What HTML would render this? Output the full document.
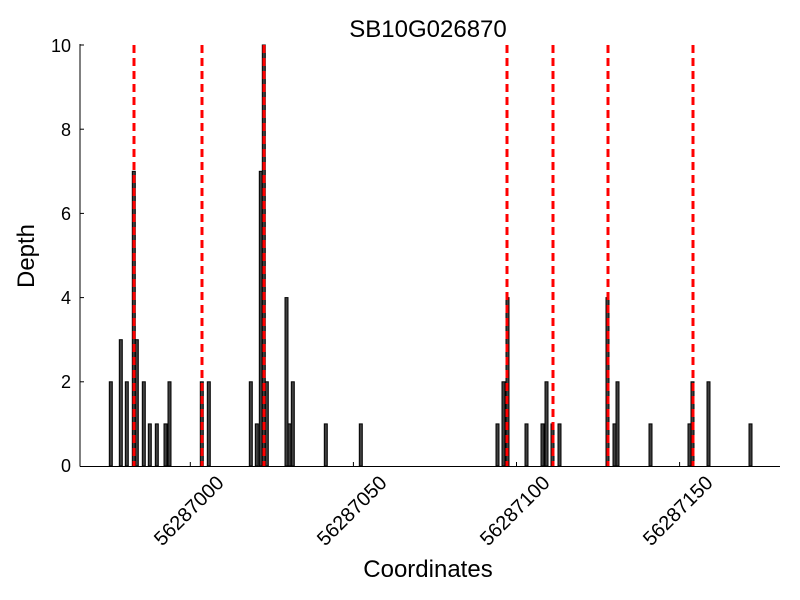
<!DOCTYPE html>
<html><head><meta charset="utf-8"><style>body{margin:0;background:#fff}svg{display:block}text{font-family:"Liberation Sans",sans-serif;fill:#000}</style></head><body>
<svg width="800" height="600" xmlns="http://www.w3.org/2000/svg">
<text x="428" y="37" font-size="24" text-anchor="middle">SB10G026870</text>
<g fill="#404040" stroke="#000" stroke-width="1">
<rect x="109.3" y="381.8" width="3" height="84.2"/>
<rect x="119.3" y="339.7" width="3" height="126.3"/>
<rect x="125.3" y="381.8" width="3" height="84.2"/>
<rect x="132.3" y="171.3" width="3" height="294.7"/>
<rect x="135.3" y="339.7" width="3" height="126.3"/>
<rect x="142.3" y="381.8" width="3" height="84.2"/>
<rect x="148.3" y="423.9" width="3" height="42.1"/>
<rect x="155.3" y="423.9" width="3" height="42.1"/>
<rect x="164" y="423.9" width="3" height="42.1"/>
<rect x="168" y="381.8" width="3" height="84.2"/>
<rect x="200.3" y="381.8" width="3" height="84.2"/>
<rect x="207.3" y="381.8" width="3" height="84.2"/>
<rect x="249.3" y="381.8" width="3" height="84.2"/>
<rect x="255.3" y="423.9" width="3" height="42.1"/>
<rect x="259.3" y="171.3" width="3" height="294.7"/>
<rect x="262.3" y="45" width="3" height="421"/>
<rect x="265.3" y="381.8" width="3" height="84.2"/>
<rect x="285" y="297.6" width="3" height="168.4"/>
<rect x="288" y="423.9" width="3" height="42.1"/>
<rect x="291.3" y="381.8" width="3" height="84.2"/>
<rect x="324.3" y="423.9" width="3" height="42.1"/>
<rect x="359.3" y="423.9" width="3" height="42.1"/>
<rect x="496" y="423.9" width="3" height="42.1"/>
<rect x="502" y="381.8" width="3" height="84.2"/>
<rect x="506" y="297.6" width="3" height="168.4"/>
<rect x="525" y="423.9" width="3" height="42.1"/>
<rect x="541" y="423.9" width="3" height="42.1"/>
<rect x="545" y="381.8" width="3" height="84.2"/>
<rect x="551" y="423.9" width="3" height="42.1"/>
<rect x="558" y="423.9" width="3" height="42.1"/>
<rect x="606" y="297.6" width="3" height="168.4"/>
<rect x="613" y="423.9" width="3" height="42.1"/>
<rect x="616" y="381.8" width="3" height="84.2"/>
<rect x="649" y="423.9" width="3" height="42.1"/>
<rect x="688" y="423.9" width="3" height="42.1"/>
<rect x="691" y="381.8" width="3" height="84.2"/>
<rect x="707" y="381.8" width="3" height="84.2"/>
<rect x="749" y="423.9" width="3" height="42.1"/>
</g>
<g stroke="#f00" stroke-width="3" stroke-dasharray="8,5">
<line x1="134" y1="45" x2="134" y2="466"/>
<line x1="202" y1="45" x2="202" y2="466"/>
<line x1="264" y1="45" x2="264" y2="466"/>
<line x1="507" y1="45" x2="507" y2="466"/>
<line x1="553" y1="45" x2="553" y2="466"/>
<line x1="608" y1="45" x2="608" y2="466"/>
<line x1="693" y1="45" x2="693" y2="466"/>
</g>
<g stroke="#000" stroke-width="1">
<line x1="80" y1="44" x2="80" y2="466.5"/>
<line x1="80" y1="466.5" x2="780" y2="466.5"/>
<line x1="80" y1="45" x2="84" y2="45"/>
<line x1="80" y1="129.2" x2="84" y2="129.2"/>
<line x1="80" y1="213.4" x2="84" y2="213.4"/>
<line x1="80" y1="297.6" x2="84" y2="297.6"/>
<line x1="80" y1="381.8" x2="84" y2="381.8"/>
<line x1="190.3" y1="466" x2="190.3" y2="462"/>
<line x1="353.4" y1="466" x2="353.4" y2="462"/>
<line x1="516.5" y1="466" x2="516.5" y2="462"/>
<line x1="679.6" y1="466" x2="679.6" y2="462"/>
</g>
<g font-size="18" text-anchor="end">
<text x="71" y="52">10</text>
<text x="71" y="136">8</text>
<text x="71" y="220">6</text>
<text x="71" y="304">4</text>
<text x="71" y="388">2</text>
<text x="71" y="472">0</text>
</g>
<g font-size="20" text-anchor="end">
<text transform="translate(225,484) rotate(-45)">56287000</text>
<text transform="translate(388,484) rotate(-45)">56287050</text>
<text transform="translate(551,484) rotate(-45)">56287100</text>
<text transform="translate(714,484) rotate(-45)">56287150</text>
</g>
<text x="428" y="577" font-size="24" text-anchor="middle">Coordinates</text>
<text transform="translate(34,256) rotate(-90)" font-size="24" text-anchor="middle">Depth</text>
</svg>
</body></html>
